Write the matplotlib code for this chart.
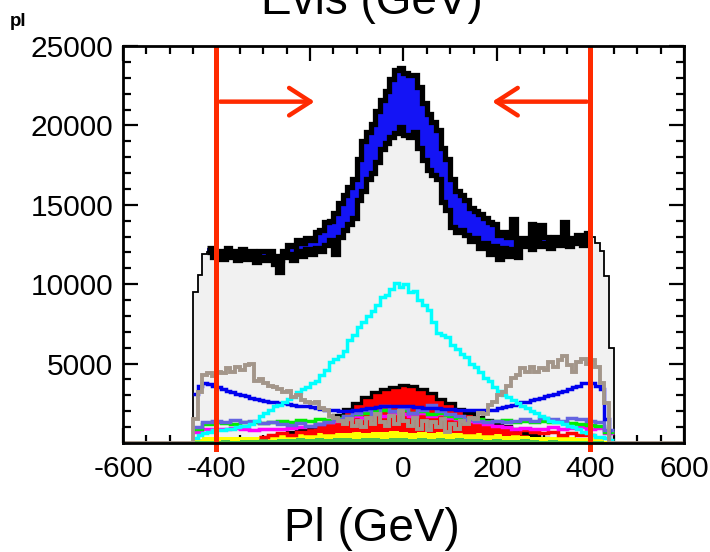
import numpy as np
import matplotlib
matplotlib.use("Agg")
import matplotlib.pyplot as plt
from matplotlib.ticker import MultipleLocator

plt.rcParams["font.family"] = ["Liberation Sans", "DejaVu Sans"]

# 10 GeV bins, -450 .. 450
edges10 = np.arange(-450, 451, 10)
# 20 GeV bins for the small components
edges20 = np.arange(-450, 451, 20)

# total background (grey)
bkg = [
    9500, 10600, 11900, 12000, 11700, 11900, 11600, 12000, 11700, 11500,
    11900, 11600, 11800, 11400, 11700, 11500, 11800, 11300, 10800, 11700,
    11900, 11500, 12100, 11800, 12200, 11900, 12300, 12100, 12500, 12800,
    11900, 13000, 13400, 13800, 14200, 15300, 15900, 16600, 17000, 17700,
    18500, 18900, 19300, 19500, 19900, 19400, 19300, 19600, 18600, 17800,
    17200, 16900, 16600, 15200, 14700, 13600, 13300, 13400, 13100, 12700,
    12900, 12300, 12600, 11900, 12400, 11600, 12300, 11800, 12200, 11700,
    12400, 12500, 12200, 12700, 12400, 12600, 12300, 12700, 12500, 12800,
    12400, 12600, 12700, 12500, 12900, 13000, 12600, 12100, 10500, 6000,
]
# signal stacked on top (blue)
sig = [
    0, 0, 0, 300, 400, 200, 500, 300, 400, 500,
    300, 500, 300, 500, 400, 600, 300, 500, 700, 400,
    600, 900, 700, 800, 700, 900, 1000, 1300, 1400, 1200,
    2600, 2100, 2200, 2300, 2400, 2600, 3100, 3000, 3100, 3200,
    3100, 3300, 3600, 4000, 3700, 3900, 3900, 3600, 3800, 3600,
    3500, 3300, 3100, 3400, 3200, 3000, 2600, 2200, 2200, 2100,
    1700, 2100, 1600, 2000, 1400, 1500, 1000, 1200, 1900, 800,
    500, 300, 1600, 300, 1300, 400, 400, 300, 500, 1100,
    400, 300, 400, 400, 300, 0, 0, 0, 0, 0,
]
cyan = [
    300, 500, 600, 700, 800, 800, 800, 900, 900, 1000,
    1100, 1100, 1200, 1400, 1700, 1900, 2100, 2300, 2400, 2600,
    2800, 2900, 3200, 3400, 3500, 3800, 3900, 4300, 4600, 5100,
    5300, 5500, 5800, 6500, 6800, 7300, 7600, 8000, 8300, 8700,
    9200, 9300, 9700, 10100, 9800, 10000, 9500, 9600, 9000, 8700,
    8400, 7600, 6900, 6800, 6700, 6200, 5900, 5600, 5400, 5000,
    4800, 4500, 4100, 3900, 3500, 3300, 3000, 2900, 2700, 2500,
    2300, 2200, 2000, 1900, 1700, 1600, 1400, 1300, 1300, 1200,
    1100, 1000, 900, 700, 600, 500, 400, 400, 300, 200,
]
brown = [
    1500, 3200, 4300, 4400, 4200, 4500, 4400, 4700, 4500, 4800,
    4600, 4900, 5000, 3900, 4000, 3800, 3600, 3500, 3400, 3200,
    3300, 2900, 3000, 2700, 2600, 2500, 2600, 2200, 2100, 1700,
    1600, 1400, 1200, 1500, 1100, 1400, 1000, 1600, 1200, 1800,
    1300, 1100, 1700, 1200, 2000, 1400, 1100, 1600, 900, 1400,
    800, 1300, 1000, 1500, 700, 1200, 900, 1400, 1200, 1600,
    1500, 1900, 1800, 2400, 2600, 3000, 3200, 3600, 4100, 4300,
    4700, 4500, 4800, 4500, 4700, 4600, 5100, 4800, 5200, 5500,
    4900, 4500, 5100, 5300, 5000, 5200, 4800, 3800, 2500, 0,
]
blue_line = [
    3100, 3600, 3800, 3700, 3600, 3500, 3400, 3300, 3200, 3100,
    3000, 2950, 2850, 2800, 2700, 2650, 2600, 2550, 2500, 2500,
    2450, 2400, 2350, 2300, 2300, 2250, 2200, 2150, 2100, 2100,
    2050, 2000, 2000, 2000, 2050, 2100, 2150, 2200, 2200, 2250,
    2300, 2300, 2300, 2300, 2300, 2300, 2300, 2250, 2250, 2200,
    2200, 2200, 2200, 2150, 2150, 2150, 2100, 2100, 2100, 2050,
    2050, 2050, 2050, 2100, 2100, 2200, 2250, 2300, 2400, 2450,
    2550, 2600, 2700, 2800, 2850, 2950, 3000, 3100, 3200, 3300,
    3400, 3500, 3600, 3750, 3800, 3750, 3600, 3400, 1500, 0,
]

# 20 GeV components
red_bump = [
    0, 0, 0, 0, 0, 0, 100, 250, 400, 550, 700, 850, 1000, 1200, 1450,
    1750, 2150, 2500, 2900, 3200, 3400, 3550, 3650, 3600, 3400, 3150, 2800,
    2500, 2150, 1900, 1650, 1450, 1250, 1050, 850, 650, 500, 300, 150,
    0, 0, 0, 0, 0, 0,
]
green_fill = [
    100, 150, 150, 200, 150, 200, 200, 250, 200, 250, 250, 300, 250, 300, 250,
    300, 300, 250, 300, 300, 250, 300, 300, 250, 300, 250, 300, 250, 300, 250,
    250, 200, 250, 200, 200, 250, 200, 150, 200, 150, 150, 150, 100, 100, 50,
]
yellow_top = [
    250, 350, 350, 400, 350, 400, 400, 450, 450, 500, 500, 550, 500, 600, 550,
    650, 600, 700, 650, 700, 700, 750, 700, 650, 700, 650, 700, 600, 650, 550,
    600, 500, 550, 450, 500, 450, 400, 400, 400, 350, 350, 300, 300, 250, 150,
]
# red noisy line, -310 .. 410
red_noise = [
    400, 500, 600, 500, 700, 600, 800, 700, 900, 800, 1000, 900, 1100, 1000,
    1200, 1100, 1000, 1200, 900, 1100, 800, 1000, 700, 900, 600, 800, 700,
    600, 800, 700, 600, 700, 500, 600, 500, 500,
]
magenta = [
    700, 850, 900, 850, 950, 900, 800, 850, 900, 850, 950, 1000, 1100, 1200, 1300,
    1400, 1500, 1700, 1600, 1800, 1700, 1900, 1800, 1700, 1900, 1700, 1800, 1600, 1500, 1400,
    1300, 1200, 1100, 1000, 900, 950, 850, 900, 1000, 900, 950, 1000, 900, 950, 600,
]
purple = [
    1000, 1300, 1400, 1350, 1450, 1300, 1400, 1250, 1350, 1200, 1150, 1250, 1100, 1200, 1300,
    1500, 1700, 1900, 2100, 1800, 2300, 2000, 2200, 1900, 2100, 2400, 2000, 1800, 1700, 1500,
    1400, 1300, 1400, 1300, 1400, 1500, 1400, 1600, 1500, 1400, 1600, 1500, 1400, 1300, 800,
]
green_line = [
    900, 1200, 1300, 1250, 1200, 1300, 1350, 1250, 1300, 1400, 1350, 1450, 1400, 1500, 1450,
    1600, 1700, 1800, 1900, 2000, 2100, 2000, 2100, 1900, 2000, 1800, 1900, 1700, 1600, 1500,
    1500, 1400, 1400, 1450, 1350, 1400, 1300, 1400, 1350, 1300, 1250, 1200, 1150, 1100, 700,
]

cuts = [-400, 400]
arrow_y = 21500
arrow_len = 210

x_ticks = [-600, -400, -200, 0, 200, 400, 600]
y_ticks = [5000, 10000, 15000, 20000, 25000]

bkg = np.array(bkg)
total = bkg + np.array(sig)

fig = plt.figure(figsize=(7.1, 5.52), dpi=100)
ax = fig.add_axes([0.1732, 0.1975, 0.790, 0.719])

# background + signal
ax.stairs(bkg, edges10, fill=True, color="#f1f1f1", zorder=1)
ax.stairs(total, edges10, baseline=bkg, fill=True, color="#1414f5", zorder=1.1)
ax.stairs(bkg, edges10, color="black", lw=1.3, zorder=1.2)
ax.stairs(bkg[3:85], edges10[3:86], baseline=None, color="black", lw=3.8, zorder=1.3)
ax.stairs(total[3:85], edges10[3:86], baseline=None, color="black", lw=3.8, zorder=1.3)

# red filled component
ax.stairs(red_bump, edges20, fill=True, color="#ff0000", zorder=2)
ax.stairs(red_bump, edges20, baseline=None, color="black", lw=2.4, zorder=2.1)

# small bottom components
ax.stairs(yellow_top, edges20, baseline=green_fill, fill=True, color="#ffff00", zorder=3)
ax.stairs(green_fill, edges20, fill=True, color="#4cc44c", zorder=3)
ax.stairs(red_noise, edges20[7:44], baseline=None, color="#ff0000", lw=2.5, zorder=3.1)
ax.stairs(magenta, edges20, baseline=None, color="#ff00ff", lw=2.5, zorder=3.2)
ax.stairs(purple, edges20, baseline=None, color="#6464e0", lw=2.5, zorder=3.3)
ax.stairs(green_line, edges20, baseline=None, color="#00ee00", lw=2.5, zorder=3.25)

# main lines
ax.stairs(blue_line, edges10, baseline=None, color="#0000ee", lw=2.5, zorder=3.4)
ax.stairs(cyan, edges10, baseline=None, color="#00ffff", lw=2.5, zorder=3.5)
brown_edges = np.concatenate([[-600], edges10, [600]])
brown_vals = np.concatenate([[0], brown, [0]])
ax.stairs(brown_vals, brown_edges, baseline=None, color="#a3968a", lw=2.8, zorder=3.6)

# cut lines and arrows
for c in cuts:
    ax.axvline(c, ymin=-0.015, ymax=0.995, color="#ff2a00", lw=3.6, zorder=5, clip_on=False)
    d = -1 if c > 0 else 1
    ax.annotate("", xy=(c + d * arrow_len, arrow_y), xytext=(c + d * 8, arrow_y),
                arrowprops=dict(arrowstyle="->,head_length=0.7,head_width=0.45",
                                color="#ff2a00", lw=3.2, mutation_scale=22,
                                shrinkA=0, shrinkB=0),
                zorder=5)

ax.set_xlim(-600, 600)
ax.set_ylim(0, 25000)
ax.set_xticks(x_ticks)
ax.set_xticklabels([str(v) for v in x_ticks])
ax.set_yticks(y_ticks)
ax.set_yticklabels([str(v) for v in y_ticks])
ax.xaxis.set_minor_locator(MultipleLocator(50))
ax.yaxis.set_minor_locator(MultipleLocator(1000))
ax.tick_params(which="both", direction="in", top=True, right=True, width=1.6,
               labelsize=21.5)
ax.tick_params(which="major", length=11)
ax.tick_params(which="minor", length=6)
ax.tick_params(axis="x", pad=9)
ax.tick_params(axis="y", pad=7)
for s in ax.spines.values():
    s.set_linewidth(2)
    s.set_zorder(6)

fig.text(0.524, 0.0199, "Pl (GeV)", fontsize=33, ha="center", va="baseline")
fig.text(0.524, 0.975, "Evis (GeV)", fontsize=33, ha="center", va="baseline")
fig.text(0.014, 0.952, "pl", fontsize=13.5, fontweight="bold", ha="left", va="baseline")

fig.savefig("out.png", dpi=100)
